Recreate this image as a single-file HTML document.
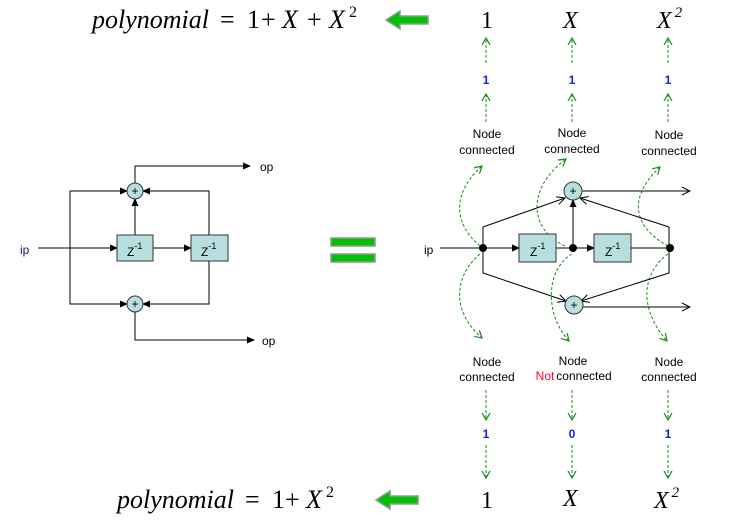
<!DOCTYPE html>
<html><head><meta charset="utf-8"><style>
html,body{margin:0;padding:0;background:#fff;width:742px;height:521px;overflow:hidden}
svg{display:block}
.s{font-family:"Liberation Sans",sans-serif;font-size:12px}
.m{font-family:"Liberation Serif",serif;font-size:24px}
.p{font-family:"Liberation Serif",serif;font-size:26px}
.i{font-style:italic}
</style></head><body>
<svg width="742" height="521" viewBox="0 0 742 521">
<defs>
<marker id="ab" markerWidth="8" markerHeight="8" refX="7" refY="4" orient="auto" markerUnits="userSpaceOnUse"><path d="M0,0.5 L8,4 L0,7.5z" fill="#000"/></marker>
<marker id="ao" markerWidth="10" markerHeight="10" refX="9" refY="5" orient="auto" markerUnits="userSpaceOnUse"><path d="M1,1 L9,5 L1,9" fill="none" stroke="#000"/></marker>
<marker id="ag" markerWidth="10" markerHeight="10" refX="8" refY="5" orient="auto" markerUnits="userSpaceOnUse"><path d="M1,1 L8,5 L1,9" fill="none" stroke="#1a8a1a" stroke-width="1.2"/></marker>
</defs>

<text y="28" class="p"><tspan x="92" class="i">polynomial</tspan><tspan x="220">=</tspan><tspan x="247">1</tspan><tspan x="261">+</tspan><tspan x="282" class="i">X</tspan><tspan x="307">+</tspan><tspan x="329" class="i">X</tspan><tspan x="349" y="17" font-size="16">2</tspan></text>
<path d="M386,20 L400,11 L400,16 L428,16 L428,24 L400,24 L400,29 z" fill="#00c000" stroke="#8a9a9a" stroke-width="1.5"/>
<text y="508" class="p"><tspan x="117" class="i">polynomial</tspan><tspan x="245">=</tspan><tspan x="272">1</tspan><tspan x="285">+</tspan><tspan x="306" class="i">X</tspan><tspan x="326" y="497" font-size="16">2</tspan></text>
<path d="M376,500 L390,491 L390,496 L418,496 L418,504 L390,504 L390,509 z" fill="#00c000" stroke="#8a9a9a" stroke-width="1.5"/>

<g>
<text x="481" y="28" class="m">1</text>
<text x="563" y="28" class="m i">X</text>
<text x="657" y="28" class="m i">X<tspan font-size="15" dy="-11" dx="3">2</tspan></text>
</g>
<g>
<text x="481" y="508" class="m">1</text>
<text x="563" y="506" class="m i">X</text>
<text x="654" y="508" class="m i">X<tspan font-size="15" dy="-11" dx="3">2</tspan></text>
</g>

<g stroke="#1a8a1a" stroke-width="1" stroke-dasharray="3,2" fill="none" marker-end="url(#ag)">
<path d="M486,63 L486,38"/><path d="M572,63 L572,38"/><path d="M668,63 L668,38"/>
<path d="M486,122 L486,94"/><path d="M572,122 L572,94"/><path d="M668,122 L668,94"/>
<path d="M486,390 L486,420"/><path d="M572,390 L572,420"/><path d="M668,390 L668,420"/>
<path d="M486,445 L486,478"/><path d="M572,445 L572,478"/><path d="M668,445 L668,478"/>
<path d="M480,246 C455,225 450,195 482,166"/>
<path d="M565,246 C530,230 525,190 566,159"/>
<path d="M668,246 C630,225 630,195 660,167"/>
<path d="M480,254 C455,275 450,310 482,338"/>
<path d="M572,254 C545,270 545,315 569,341"/>
<path d="M668,254 C640,275 640,310 667,341"/>
</g>
<g class="s" font-weight="bold" font-size="13" fill="#1a1aee" text-anchor="middle">
<text x="486" y="84">1</text><text x="572" y="84">1</text><text x="668" y="84">1</text>
<text x="486" y="438">1</text><text x="572" y="438">0</text><text x="668" y="438">1</text>
</g>
<g class="s" text-anchor="middle">
<text x="487" y="138">Node</text><text x="487" y="154">connected</text>
<text x="572" y="137">Node</text><text x="572" y="153">connected</text>
<text x="669" y="139">Node</text><text x="669" y="155">connected</text>
<text x="487" y="366">Node</text><text x="487" y="381">connected</text>
<text x="573" y="365">Node</text><text x="584" y="380">connected</text><text x="545" y="380" fill="#ff0033">Not</text>
<text x="669" y="366">Node</text><text x="669" y="381">connected</text>
</g>

<g stroke="#000" stroke-width="1" fill="none">
<text x="20" y="254" class="s" fill="#1a1a6e" stroke="none">ip</text>
<path d="M38,248 L117,248" marker-end="url(#ab)"/>
<path d="M153,248 L191,248" marker-end="url(#ab)"/>
<path d="M70,248 L70,191 L127,191" marker-end="url(#ab)"/>
<path d="M70,248 L70,304 L127,304" marker-end="url(#ab)"/>
<path d="M209,235 L209,191 L143,191" marker-end="url(#ab)"/>
<path d="M209,261 L209,304 L143,304" marker-end="url(#ab)"/>
<path d="M135,235 L135,199" marker-end="url(#ab)"/>
<path d="M135,183 L135,166 L250,166" marker-end="url(#ab)"/>
<path d="M135,312 L135,340 L254,340" marker-end="url(#ab)"/>
<text x="260" y="171" class="s" fill="#000" stroke="none">op</text>
<text x="262" y="345" class="s" fill="#000" stroke="none">op</text>
<rect x="117" y="235" width="36" height="26" fill="#b8dfe0" stroke="#333"/>
<rect x="191" y="235" width="37" height="26" fill="#b8dfe0" stroke="#333"/>
<text x="127" y="256" class="s" font-size="15" fill="#000" stroke="none">Z<tspan font-size="9" dy="-7">-1</tspan></text>
<text x="201" y="256" class="s" font-size="15" fill="#000" stroke="none">Z<tspan font-size="9" dy="-7">-1</tspan></text>
<circle cx="135" cy="191" r="8" fill="#b8dfe0" stroke="#333"/>
<circle cx="135" cy="304" r="8" fill="#b8dfe0" stroke="#333"/>
<text x="135" y="195" class="s" font-size="11" text-anchor="middle" fill="#000" stroke="none">+</text>
<text x="135" y="308" class="s" font-size="11" text-anchor="middle" fill="#000" stroke="none">+</text>
</g>

<g fill="#00c000" stroke="#8a9a9a" stroke-width="1.5">
<rect x="331" y="238" width="44" height="8"/><rect x="331" y="254" width="44" height="8"/>
</g>

<g stroke="#000" stroke-width="1" fill="none">
<text x="424" y="254" class="s" fill="#000" stroke="none">ip</text>
<path d="M440,248 L519,248" marker-end="url(#ab)"/>
<path d="M556,248 L594,248" marker-end="url(#ab)"/>
<path d="M631,248 L669,248"/>
<path d="M483,248 L483,227 L565,198" marker-end="url(#ao)"/>
<path d="M669,248 L669,227 L580,198" marker-end="url(#ao)"/>
<path d="M483,248 L483,273 L566,301" marker-end="url(#ao)"/>
<path d="M669,248 L669,273 L581,301" marker-end="url(#ao)"/>
<path d="M573,248 L573,200" marker-end="url(#ab)"/>
<path d="M581,191 L690,191" marker-end="url(#ao)"/>
<path d="M582,307 L690,307" marker-end="url(#ao)"/>
<rect x="519" y="234" width="37" height="28" fill="#b8dfe0" stroke="#333"/>
<rect x="594" y="234" width="37" height="28" fill="#b8dfe0" stroke="#333"/>
<text x="530" y="256" class="s" font-size="15" fill="#000" stroke="none">Z<tspan font-size="9" dy="-7">-1</tspan></text>
<text x="605" y="256" class="s" font-size="15" fill="#000" stroke="none">Z<tspan font-size="9" dy="-7">-1</tspan></text>
<circle cx="573" cy="191" r="9" fill="#b8dfe0" stroke="#333"/>
<circle cx="574" cy="305" r="9" fill="#b8dfe0" stroke="#333"/>
<text x="573" y="195" class="s" font-size="11" text-anchor="middle" fill="#000" stroke="none">+</text>
<text x="574" y="309" class="s" font-size="11" text-anchor="middle" fill="#000" stroke="none">+</text>
<circle cx="483" cy="248" r="3.5" fill="#000"/>
<circle cx="573" cy="248" r="3.5" fill="#000"/>
<circle cx="670" cy="248" r="3.5" fill="#000"/>
</g>
</svg>
</body></html>
